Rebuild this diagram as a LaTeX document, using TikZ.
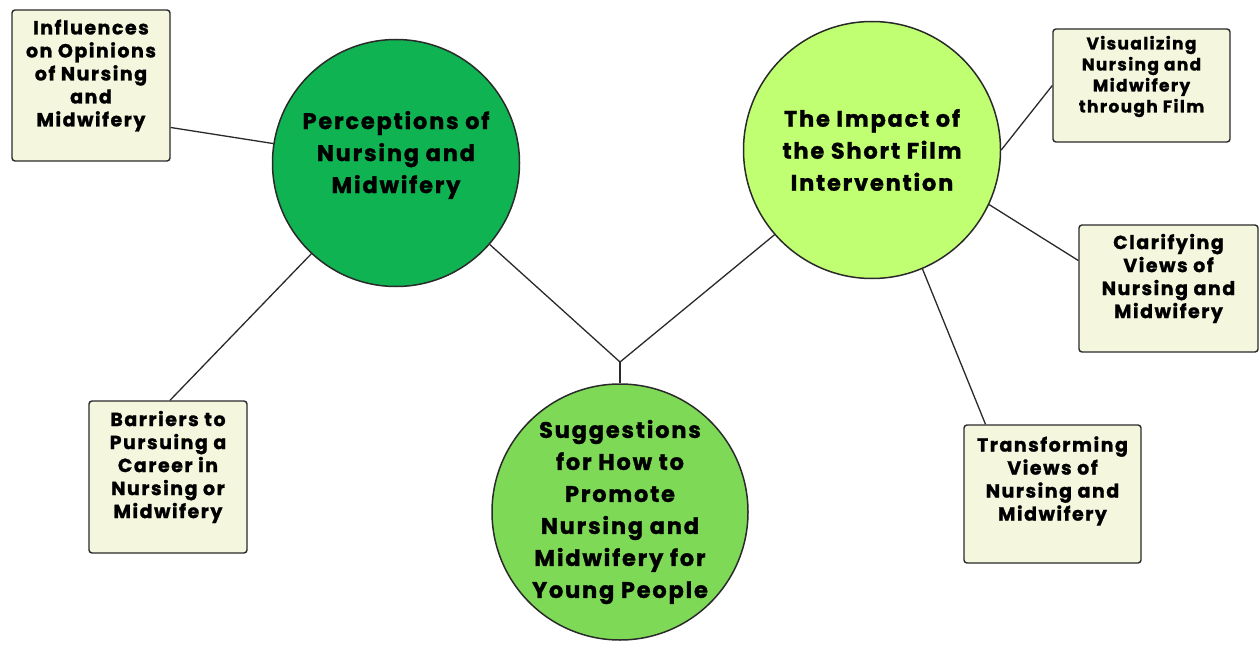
\documentclass[tikz,border=0pt]{standalone}
\usepackage{fontspec}
\usepackage{tikz}
\usetikzlibrary{calc}
\newfontfamily\mapfont{Poppins}[LetterSpace=8,FakeBold=1.2]
\definecolor{deepgreen}{HTML}{10B352}
\definecolor{midgreen}{HTML}{7ED957}
\definecolor{limegreen}{HTML}{C1FF72}
\definecolor{cardfill}{HTML}{F4F7DE}
\definecolor{inkline}{HTML}{2A2A2A}
\tikzstyle{topic}=[draw=inkline,line width=1.5pt,circle,inner sep=0pt]
\tikzstyle{card}=[draw=inkline,line width=1.4pt,fill=cardfill,rounded corners=3pt,inner sep=0pt]
\tikzstyle{cardtext}=[font=\mapfont\bfseries\fontsize{19}{23}\selectfont,align=center,inner sep=0pt]
\tikzstyle{topictext}=[font=\mapfont\bfseries\fontsize{22.5}{32}\selectfont,align=center,inner sep=0pt]
\tikzstyle{link}=[draw=inkline,line width=1.3pt]

\begin{document}
\begin{tikzpicture}[x=1pt,y=-1pt]
\useasboundingbox[fill=white] (0,0) rectangle (1259,650);

% the three themes
\node [topic,fill=deepgreen,minimum size=247pt] (perc) at (396,163) {};
\node [topic,fill=limegreen,minimum size=257pt] (imp) at (872,150) {};
\node [topic,fill=midgreen,minimum size=256pt] (sugg) at (620,512) {};
\node [topictext] (perc-t) at ([yshift=8pt]perc) {Perceptions of\\Nursing and\\Midwifery};
\node [topictext] (imp-t) at (imp) {The Impact of\\the Short Film\\Intervention};
\node [topictext] (sugg-t) at (sugg) {Suggestions\\for How to\\Promote\\Nursing and\\Midwifery for\\Young People};

% subthemes
\node [card,minimum width=158pt,minimum height=151pt] (infl) at (91,85.5) {};
\node [card,minimum width=158pt,minimum height=152pt] (barr) at (168,477) {};
\node [card,minimum width=177pt,minimum height=113pt] (vis) at (1141.5,85.5) {};
\node [card,minimum width=179pt,minimum height=127pt] (clar) at (1168.5,288.5) {};
\node [card,minimum width=177pt,minimum height=138pt] (trans) at (1052.5,494) {};
\node [cardtext] (infl-t) at ([yshift=10pt]infl) {Influences\\on Opinions\\of Nursing\\and\\Midwifery};
\node [cardtext] (barr-t) at ([yshift=10pt]barr) {Barriers to\\Pursuing a\\Career in\\Nursing or\\Midwifery};
\node [cardtext,font=\mapfont\bfseries\fontsize{17}{21}\selectfont] (vis-t) at ([yshift=9pt]vis) {Visualizing\\Nursing and\\Midwifery\\through Film};
\node [cardtext] (clar-t) at ([yshift=10pt]clar) {Clarifying\\Views of\\Nursing and\\Midwifery};
\node [cardtext] (trans-t) at ([yshift=13pt]trans) {Transforming\\Views of\\Nursing and\\Midwifery};

\coordinate (jn) at (620,362);

% connectors
\draw [link] ([yshift=-42pt]infl.east) -- (perc.171);
\draw [link] ([xshift=2pt]barr.north) -- (perc.227);
\draw [link] (perc.319) -- (jn) -- (imp.221);
\draw [link] (jn) -- (sugg.north);
\draw [link] (vis.west) -- (imp.0);
\draw [link] ([yshift=28pt]clar.west) -- (imp.335);
\draw [link] ([xshift=-67pt]trans.north) -- (imp.293);
\end{tikzpicture}
\end{document}
